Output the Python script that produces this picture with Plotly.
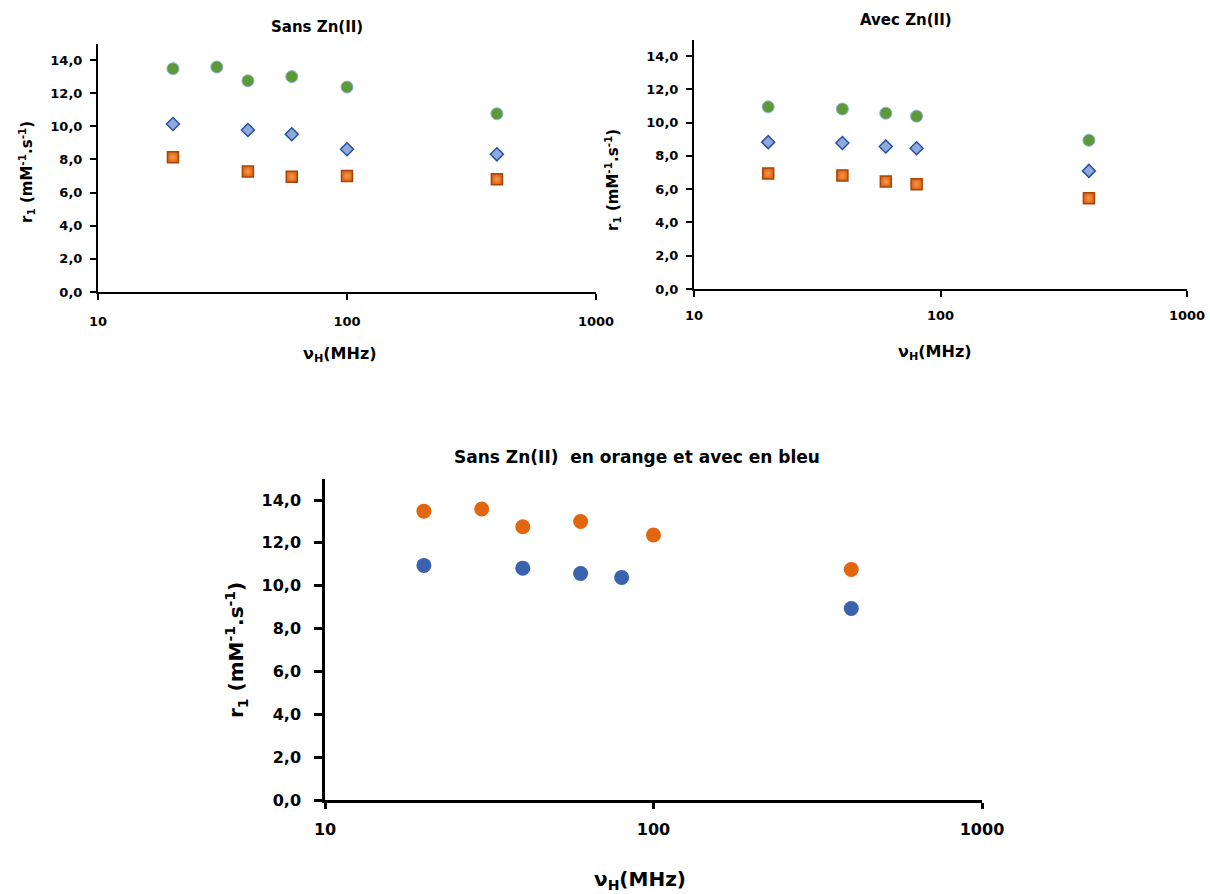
import plotly.graph_objects as go

# ---- data ----
freq_sans_total = [20, 30, 40, 60, 100, 400]
r1_sans_total = [13.48, 13.58, 12.75, 13.0, 12.37, 10.76]
freq_sans = [20, 40, 60, 100, 400]
r1_sans_diamond = [10.14, 9.78, 9.52, 8.62, 8.31]
r1_sans_square = [8.13, 7.28, 6.96, 7.0, 6.8]

freq_avec = [20, 40, 60, 80, 400]
r1_avec_total = [10.95, 10.82, 10.57, 10.39, 8.94]
r1_avec_diamond = [8.83, 8.78, 8.57, 8.46, 7.1]
r1_avec_square = [6.94, 6.82, 6.46, 6.3, 5.46]

x_tickvals = [10, 100, 1000]
x_ticktext = ["10", "100", "1000"]
y_tickvals = [0, 2, 4, 6, 8, 10, 12, 14]

W, H = 1210, 894
FONT = "DejaVu Sans"

def px_x(a, b):
    return [a / W, b / W]

def px_y(top, bottom):
    return [1 - bottom / H, 1 - top / H]

fig = go.Figure()

green = dict(symbol="circle", size=12, color="#5B9A37", line=dict(color="#8DB0D8", width=1))
diamond = dict(symbol="diamond", size=10, color="#8EAADC", line=dict(color="#2A50A0", width=1.5))
square = dict(symbol="square", size=11, color="#E06410", line=dict(color="#A8440A", width=1.5),
              gradient=dict(type="radial", color="#F39A50"))

# chart 1
fig.add_trace(go.Scatter(x=freq_sans, y=r1_sans_square, mode="markers", marker=square, xaxis="x", yaxis="y"))
fig.add_trace(go.Scatter(x=freq_sans, y=r1_sans_diamond, mode="markers", marker=diamond, xaxis="x", yaxis="y"))
fig.add_trace(go.Scatter(x=freq_sans_total, y=r1_sans_total, mode="markers", marker=green, xaxis="x", yaxis="y"))
# chart 2
fig.add_trace(go.Scatter(x=freq_avec, y=r1_avec_square, mode="markers", marker=square, xaxis="x2", yaxis="y2"))
fig.add_trace(go.Scatter(x=freq_avec, y=r1_avec_diamond, mode="markers", marker=diamond, xaxis="x2", yaxis="y2"))
fig.add_trace(go.Scatter(x=freq_avec, y=r1_avec_total, mode="markers", marker=green, xaxis="x2", yaxis="y2"))
# chart 3
fig.add_trace(go.Scatter(x=freq_sans_total, y=r1_sans_total, mode="markers",
                         marker=dict(symbol="circle", size=15, color="#E2660F"), xaxis="x3", yaxis="y3"))
fig.add_trace(go.Scatter(x=freq_avec, y=r1_avec_total, mode="markers",
                         marker=dict(symbol="circle", size=15, color="#3A62AE"), xaxis="x3", yaxis="y3"))

def xaxis(domain, anchor, fs, standoff, lw=2):
    return dict(domain=domain, anchor=anchor, type="log", range=[1, 3], automargin=False,
                tickvals=x_tickvals, ticktext=x_ticktext,
                showgrid=False, zeroline=False, showline=True, linecolor="black", linewidth=lw,
                ticks="outside", ticklen=6, tickwidth=lw, tickcolor="black",
                tickfont=dict(family=FONT, size=fs, color="black", weight="bold"),
                ticklabelstandoff=standoff)

def yaxis(domain, anchor, fs, standoff, lw=2, ticklen=6):
    return dict(domain=domain, anchor=anchor, range=[0, 15], tickvals=y_tickvals, automargin=False,
                tickformat=".1f", showgrid=False, zeroline=False, showline=True, linecolor="black",
                linewidth=lw, ticks="outside", ticklen=ticklen, tickwidth=lw, tickcolor="black",
                tickfont=dict(family=FONT, size=fs, color="black", weight="bold"),
                ticklabelstandoff=standoff)

fig.update_layout(
    width=W, height=H, margin=dict(l=0, r=0, t=0, b=0, autoexpand=False),
    paper_bgcolor="white", plot_bgcolor="white", showlegend=False,
    separators=", ",
    xaxis=xaxis(px_x(98, 596), "y", 13, 10),
    yaxis=yaxis(px_y(43.5, 292), "x", 13, 5),
    xaxis2=xaxis(px_x(694, 1187), "y2", 13, 7),
    yaxis2=yaxis(px_y(39.5, 289), "x2", 13, 5),
    xaxis3=xaxis(px_x(325, 982), "y3", 16, 7, lw=2.5),
    yaxis3=yaxis(px_y(478.6, 800), "x3", 16, 10, lw=2.5, ticklen=8),
)

def ann(text, x, y, size, angle=0):
    fig.add_annotation(text=text, x=x / W, y=1 - y / H, xref="paper", yref="paper",
                       showarrow=False, textangle=angle, xanchor="center", yanchor="middle",
                       font=dict(family=FONT, size=size, color="black", weight="bold"))

ytitle = "r<sub>1</sub> (mM<sup>-1</sup>.s<sup>-1</sup>)"
xtitle = "ν<sub>H</sub>(MHz)"

ann("Sans Zn(II)", 317, 27, 15)
ann("Avec Zn(II)", 906, 20, 15)
ann("Sans Zn(II)  en orange et avec en bleu", 637, 457, 17)

ann(xtitle, 340, 354, 16)
ann(xtitle, 935, 353, 16)
ann(xtitle, 640, 880, 20)

ann(ytitle, 26, 172, 15, -90)
ann(ytitle, 613, 180, 15, -90)
ann(ytitle, 236, 650, 20, -90)

fig.write_html("out.html", config={"displayModeBar": False},
               post_script="document.body.style.margin='0';")
